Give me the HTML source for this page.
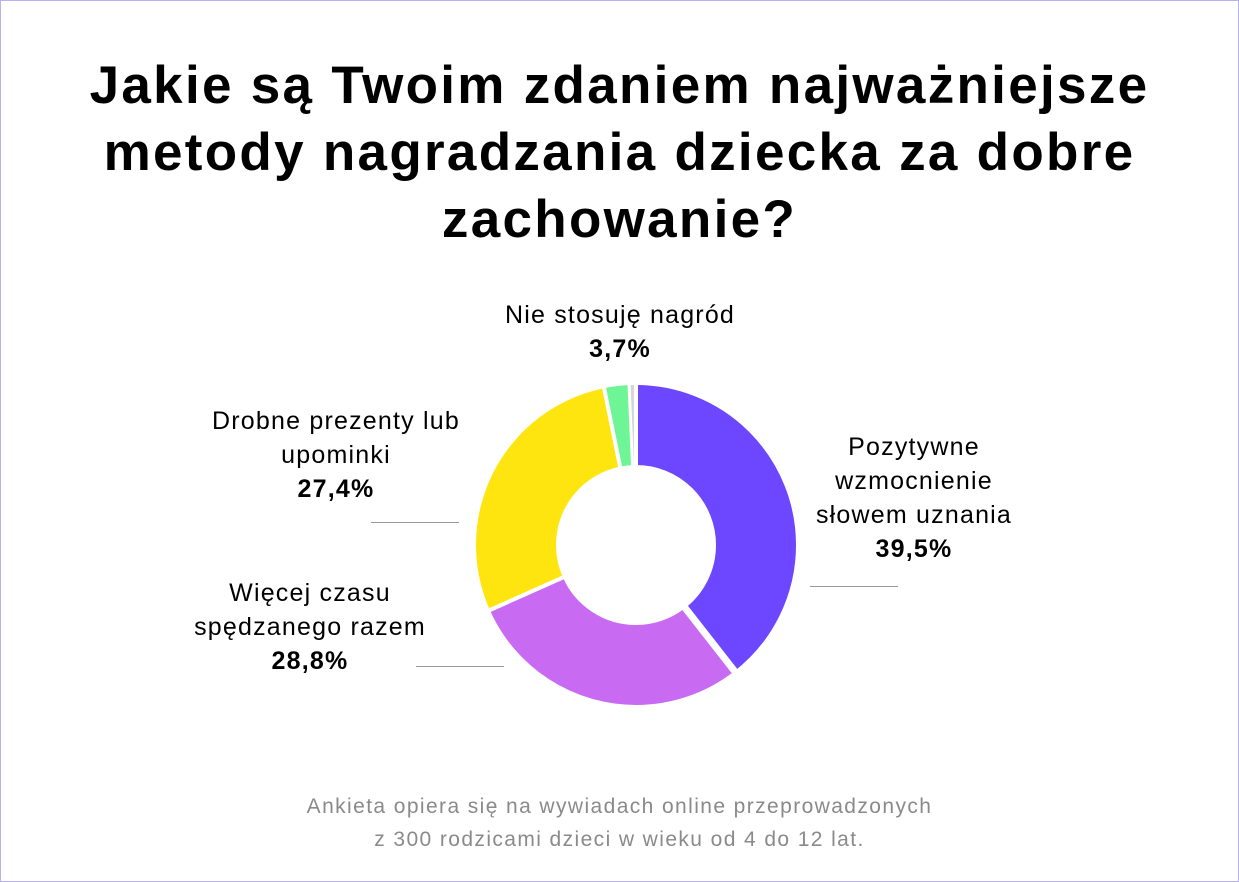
<!DOCTYPE html>
<html><head><meta charset="utf-8"><style>
body{margin:0;width:1239px;height:882px;background:#fff;font-family:"Liberation Sans",sans-serif;overflow:hidden}
.frame{position:absolute;left:0;top:0;width:1237px;height:880px;border:1px solid #b9b0f5}
.title{position:absolute;left:0;width:1239px;top:52px;text-align:center;font-weight:bold;font-size:53px;line-height:67px;color:#000;letter-spacing:2.3px}
.lab{position:absolute;font-size:25px;line-height:34px;color:#000;text-align:center;letter-spacing:1.2px}
.lab b{font-weight:bold}
.foot{position:absolute;left:0;width:1239px;top:790px;text-align:center;font-size:21px;line-height:33px;color:#8a8a8a;letter-spacing:1.4px}
.ln{position:absolute;height:1px;background:#999}
</style></head><body>
<div class="frame"></div>
<div class="title">Jakie są Twoim zdaniem najważniejsze<br>metody nagradzania dziecka za dobre<br>zachowanie?</div>
<svg width="1239" height="882" style="position:absolute;left:0;top:0">
<g transform="rotate(-90 636 545)" fill="none" stroke-width="80">
<circle cx="636" cy="545" r="120" pathLength="360" stroke="#6c47ff" stroke-dasharray="142 360" stroke-dashoffset="0"/>
<circle cx="636" cy="545" r="120" pathLength="360" stroke="#c86bf2" stroke-dasharray="104 360" stroke-dashoffset="-142"/>
<circle cx="636" cy="545" r="120" pathLength="360" stroke="#ffe50f" stroke-dasharray="102.5 360" stroke-dashoffset="-246"/>
<circle cx="636" cy="545" r="120" pathLength="360" stroke="#6ef596" stroke-dasharray="9 360" stroke-dashoffset="-348.5"/>
<circle cx="636" cy="545" r="120" pathLength="360" stroke="#d6d6d6" stroke-dasharray="2.5 360" stroke-dashoffset="-357.5"/>
</g>
<g stroke="#fff" stroke-width="4">
<line x1="636" y1="545" x2="636" y2="380" transform="rotate(0 636 545)"/>
<line x1="636" y1="545" x2="636" y2="380" transform="rotate(142 636 545)" stroke-width="7"/>
<line x1="636" y1="545" x2="636" y2="380" transform="rotate(246 636 545)"/>
<line x1="636" y1="545" x2="636" y2="380" transform="rotate(348.5 636 545)"/>
<line x1="636" y1="545" x2="636" y2="380" transform="rotate(357.5 636 545)" stroke-width="3"/>
</g>
</svg>
<div class="lab" style="left:420px;width:400px;top:298px">Nie stosuję nagród<br><b>3,7%</b></div>
<div class="lab" style="left:176px;width:320px;top:404px">Drobne prezenty lub<br>upominki<br><b>27,4%</b></div>
<div class="lab" style="left:774px;width:280px;top:430px">Pozytywne<br>wzmocnienie<br>słowem uznania<br><b>39,5%</b></div>
<div class="lab" style="left:160px;width:300px;top:576px">Więcej czasu<br>spędzanego razem<br><b>28,8%</b></div>
<div class="ln" style="left:371px;top:522px;width:88px"></div>
<div class="ln" style="left:810px;top:586px;width:88px"></div>
<div class="ln" style="left:416px;top:666px;width:88px"></div>
<div class="foot">Ankieta opiera się na wywiadach online przeprowadzonych<br>z 300 rodzicami dzieci w wieku od 4 do 12 lat.</div>
</body></html>
